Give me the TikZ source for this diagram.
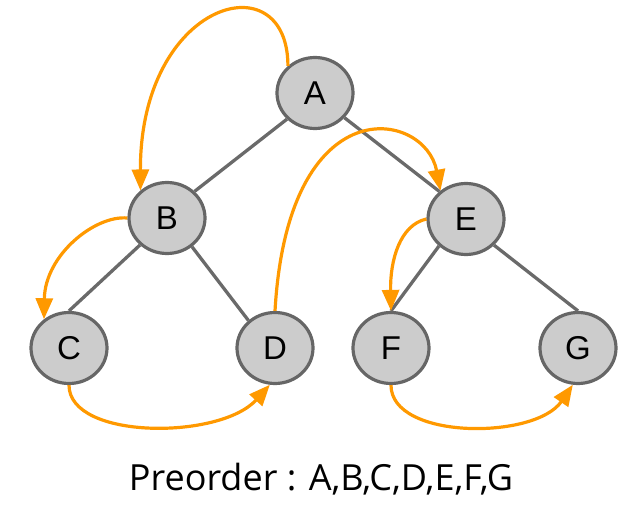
\documentclass[tikz,border=0pt]{standalone}
\usepackage{fontspec}
\setmainfont{Liberation Sans}
\newfontfamily\captionfont{Open Sans}
\usetikzlibrary{shapes.geometric,arrows.meta}
\definecolor{nodefill}{HTML}{CCCCCC}
\definecolor{nodeline}{HTML}{666666}
\definecolor{edgegray}{HTML}{6A6A6A}
\definecolor{visit}{HTML}{FF9900}
\begin{document}
\begin{tikzpicture}[x=1pt,y=-1pt,
  treenode/.style={ellipse,draw=nodeline,fill=nodefill,line width=3.2pt,
    minimum width=76pt,minimum height=71pt,inner sep=0pt,
    font=\fontsize{33}{36}\selectfont},
  treeedge/.style={draw=edgegray,line width=3.3pt},
  visitarrow/.style={draw=visit,line width=3.2pt,
    -{Triangle[length=21pt,width=17pt]}}]
\useasboundingbox (0,0) rectangle (641,522);

% tree nodes
\node[treenode] (A) at (315,93) {A};
\node[treenode] (B) at (167,218) {B};
\node[treenode] (C) at (69,348) {C};
\node[treenode] (D) at (275,348) {D};
\node[treenode] (E) at (466,219) {E};
\node[treenode] (F) at (391,348) {F};
\node[treenode] (G) at (578,348) {G};

% tree edges
\draw[treeedge] (A.223) -- (B.44);
\draw[treeedge] (A.320) -- (E.134);
\draw[treeedge] (B.225) -- (C.90);
\draw[treeedge] (B.311) -- (D.134);
\draw[treeedge] (E.225) -- (F.90);
\draw[treeedge] (E.317) -- (G.90);

% preorder visiting order
\draw[visitarrow] (A.135) .. controls (288,-40) and (140,0) .. (B.134);
\draw[visitarrow] (B.180) .. controls (95,215) and (45,255) .. (C.131);
\draw[visitarrow] (C.270) .. controls (69,440) and (220,440) .. (D.262);
\draw[visitarrow] (D.90) .. controls (288,85) and (425,110) .. (E.132);
\draw[visitarrow] (E.180) .. controls (400,225) and (390,260) .. (F.90);
\draw[visitarrow] (F.270) .. controls (391,440) and (535,440) .. (G.262);

% caption
\node[font=\captionfont\fontsize{36}{40}\selectfont,anchor=base] (cap) at (321,490)
  {Preorder : A,B,C,D,E,F,G};
\end{tikzpicture}
\end{document}
